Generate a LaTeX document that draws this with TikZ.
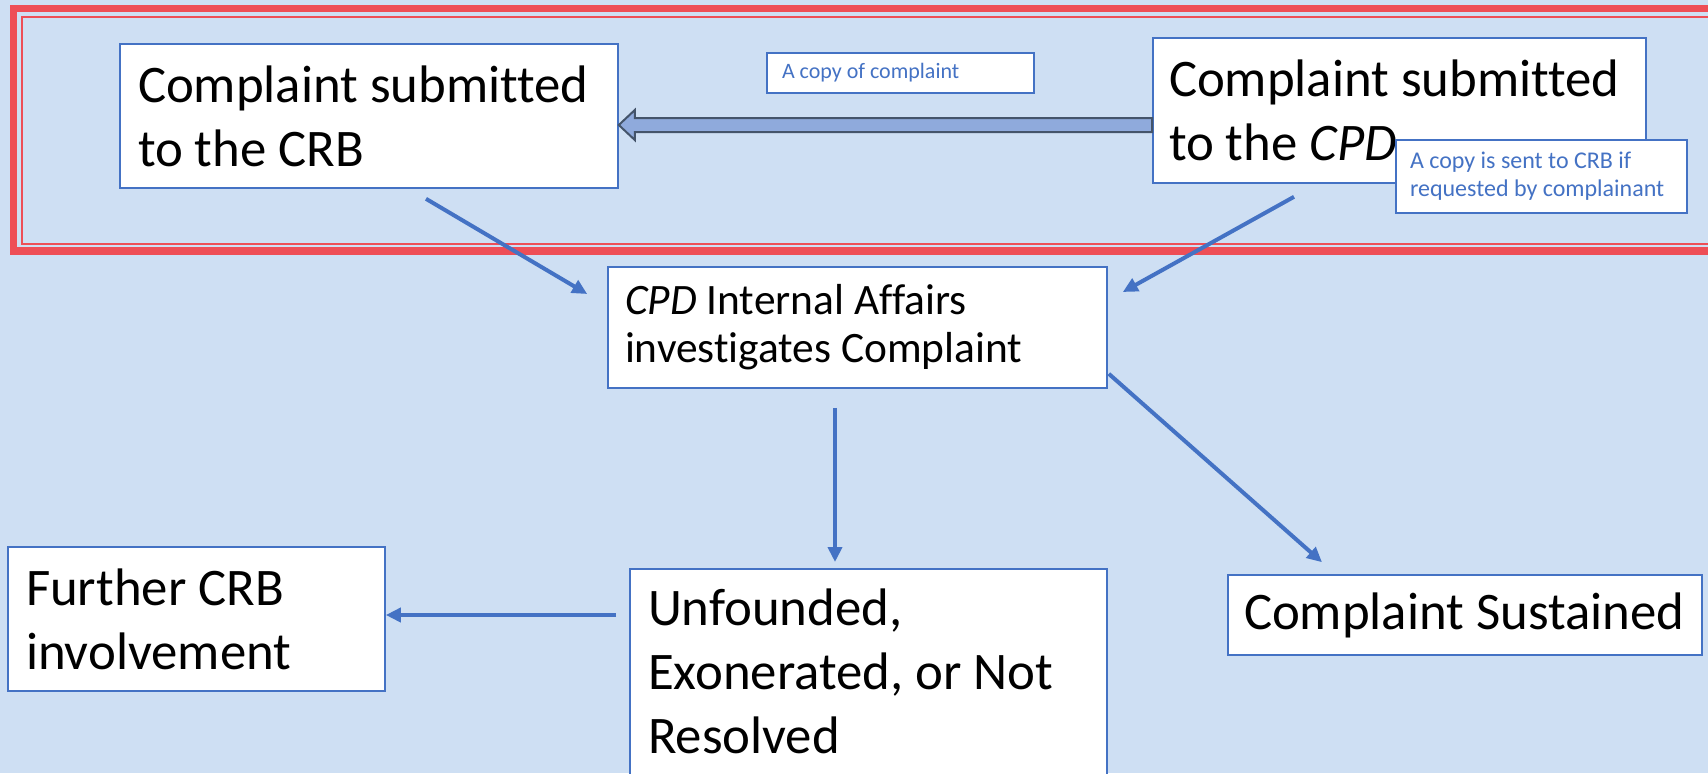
\documentclass[tikz,border=0pt]{standalone}
\usepackage{fontspec}
\setmainfont{Carlito}[Ligatures=NoCommon]
\usetikzlibrary{arrows.meta,calc,positioning}
\definecolor{boxblue}{RGB}{68,114,196}
\definecolor{framered}{RGB}{238,78,86}
\definecolor{paper}{RGB}{206,223,243}
\definecolor{arrowfill}{RGB}{143,170,220}
\definecolor{arrowline}{RGB}{68,84,106}
\tikzset{
  box/.style       = {draw=boxblue, line width=0.8pt, fill=white, align=left, inner ysep=0pt,
                      execute at begin node={\spaceskip=0pt\relax\xspaceskip=0pt\relax}},
  bigtext/.style   = {font=\fontsize{26.4}{32}\selectfont},
  midtext/.style   = {font=\fontsize{21.7}{24}\selectfont},
  note/.style      = {box, text=boxblue},
  flow/.style      = {draw=boxblue, line width=2pt, -{Triangle[length=7.5pt,width=7pt]}},
  copyarrow/.style = {draw=arrowline, fill=arrowfill, line width=1pt, line join=miter},
  frameouter/.style= {draw=framered, line width=3.8pt},
  frameinner/.style= {draw=framered, line width=1pt},
}

\begin{document}
\begin{tikzpicture}[x=0.5pt, y=-0.5pt]

  % ---- page ----------------------------------------------------------------
  \useasboundingbox (0,0) rectangle (1708,773);
  \clip (0,0) rectangle (1708,773);
  \fill[paper] (0,0) rectangle (1708,773);

  % ---- submission frame ----------------------------------------------------
  \draw[frameouter] (13.5,8.5) rectangle (1730,251);
  \draw[frameinner] (22,17) rectangle (1730,243.5);

  % ---- boxes ---------------------------------------------------------------
  \node[box, bigtext, text width=231pt, inner xsep=9pt, minimum height=72pt]
    (crb) at (369,116) {Complaint submitted\\to the CRB};
  \node[box, bigtext, text width=230.5pt, inner xsep=8pt, minimum height=72.5pt]
    (cpd) at (1399.5,110.5) {Complaint submitted\\to the \textit{CPD}};
  \node[note, font=\fontsize{11}{13}\selectfont, text width=118.5pt, inner xsep=7.5pt,
        minimum height=20pt]
    (copynote) at (900.5,73) {A copy of complaint};
  \node[note, font=\fontsize{12}{14}\selectfont, text width=131.5pt, inner xsep=7pt,
        minimum height=36.5pt]
    (sentnote) at (1541.5,176.5) {A copy is sent to CRB if\\requested by complainant};

  \node[box, midtext, text width=232.5pt, inner xsep=8.5pt, minimum height=60.5pt]
    (ia) at (857.5,327.5) {\textit{CPD} Internal Affairs\\investigates Complaint};

  \node[box, bigtext, text width=220.5pt, inner xsep=9pt, inner ysep=10pt,
        text depth=110pt, anchor=north]
    (unfounded) at (868.5,568) {Unfounded,\\Exonerated, or Not\\Resolved};
  \node[box, bigtext, text width=221pt, inner xsep=8pt, minimum height=40pt]
    (sustained) at (1465,615) {Complaint Sustained};
  \node[box, bigtext, text width=170.5pt, inner xsep=9pt, minimum height=72pt]
    (further) at (196.5,619) {Further CRB\\involvement};

  % ---- copy arrow ----------------------------------------------------------
  \coordinate (tip)  at ([shift={(0,9)}]crb.east);
  \coordinate (tail) at ([shift={(0,14.5)}]cpd.west);
  \draw[copyarrow] (tip) -- ([shift={(16,-15)}]tip) -- ([shift={(16,-7)}]tip)
    -- ([shift={(0,-7)}]tail) -- ([shift={(0,7)}]tail)
    -- ([shift={(16,7)}]tip) -- ([shift={(16,15)}]tip) -- cycle;

  % ---- connectors ----------------------------------------------------------
  \draw[flow] ([shift={(57,10)}]crb.south) -- ([shift={(-20,-33.5)}]ia.west);
  \draw[flow] ([shift={(-105.5,13)}]cpd.south) -- ([shift={(15,-35.5)}]ia.east);
  \draw[flow] ([shift={(-22.5,19)}]ia.south) -- ([shift={(-33.5,-6)}]unfounded.north);
  \draw[flow] ([shift={(1,-15)}]ia.south east) -- ([shift={(-143,-12)}]sustained.north);
  \draw[flow] ([shift={(-13,47)}]unfounded.north west) -- ([shift={(0,-4)}]further.east);
\end{tikzpicture}
\end{document}
